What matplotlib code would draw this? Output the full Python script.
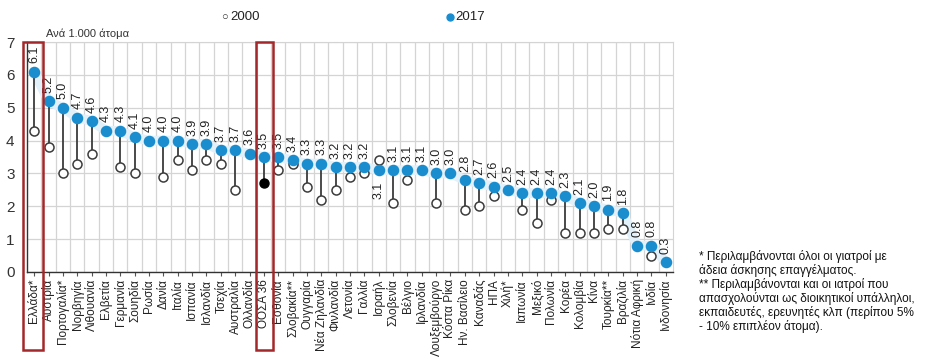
import matplotlib.pyplot as plt
import matplotlib.transforms as mtransforms
from matplotlib.patches import Rectangle

plt.rcParams['font.family'] = ['Liberation Sans', 'DejaVu Sans']

# Χώρες και τιμές (γιατροί ανά 1.000 άτομα)
countries = ['Ελλάδα*', 'Αυστρία', 'Πορτογαλία*', 'Νορβηγία', 'Λιθουανία',
             'Ελβετία', 'Γερμανία', 'Σουηδία', 'Ρωσία', 'Δανία', 'Ιταλία',
             'Ισπανία', 'Ισλανδία', 'Τσεχία', 'Αυστραλία', 'Ολλανδία',
             'ΟΟΣΑ 36', 'Εσθονία', 'Σλοβακία**', 'Ουγγαρία', 'Νέα Ζηλανδία',
             'Φινλανδία', 'Λετονία', 'Γαλλία', 'Ισραήλ', 'Σλοβενία', 'Βέλγιο',
             'Ιρλανδία', 'Λουξεμβούργο', 'Κόστα Ρίκα', 'Ην. Βασίλειο',
             'Καναδάς', 'ΗΠΑ', 'Χιλή*', 'Ιαπωνία', 'Μεξικό', 'Πολωνία',
             'Κορέα', 'Κολομβία', 'Κίνα', 'Τουρκία**', 'Βραζιλία',
             'Νότια Αφρική', 'Ινδία', 'Ινδονησία']
values_2017 = [6.1, 5.2, 5.0, 4.7, 4.6, 4.3, 4.3, 4.1, 4.0, 4.0, 4.0, 3.9,
               3.9, 3.7, 3.7, 3.6, 3.5, 3.5, 3.4, 3.3, 3.3, 3.2, 3.2, 3.2,
               3.1, 3.1, 3.1, 3.1, 3.0, 3.0, 2.8, 2.7, 2.6, 2.5, 2.4, 2.4,
               2.4, 2.3, 2.1, 2.0, 1.9, 1.8, 0.8, 0.8, 0.3]
values_2000 = [4.3, 3.8, 3.0, 3.3, 3.6, None, 3.2, 3.0, None, 2.9, 3.4, 3.1,
               3.4, 3.3, 2.5, None, 2.7, 3.1, 3.3, 2.6, 2.2, 2.5, 2.9, 3.0,
               3.4, 2.1, 2.8, None, 2.1, None, 1.9, 2.0, 2.3, None, 1.9, 1.5,
               2.2, 1.2, 1.2, 1.2, 1.3, 1.3, None, 0.5, None]
highlight = ['Ελλάδα*', 'ΟΟΣΑ 36']
label_below = ['Ισραήλ']

blue = '#1a8dcf'
stem = '#3c3c3c'

fig = plt.figure(figsize=(9.41, 3.63), dpi=100)
ax = fig.add_axes([0.0287, 0.2507, 0.6865, 0.6333])

x = list(range(len(countries)))

# απαλή σκιά πίσω από τις κουκκίδες 2017
ax.plot(x, values_2017, color='#e2f0f9', lw=7, solid_capstyle='round', zorder=1)

for i, c in enumerate(countries):
    v17 = values_2017[i]
    v00 = values_2000[i]
    if v00 is not None:
        ax.plot([i, i], [v00, v17], color=stem, lw=1.3, zorder=2)
        if c == 'ΟΟΣΑ 36':
            ax.plot(i, v00, 'o', ms=6.5, mfc='black', mec='black', zorder=3)
        else:
            ax.plot(i, v00, 'o', ms=6.5, mfc='white', mec=stem, mew=1.1, zorder=3)
    ax.plot(i, v17, 'o', ms=7.3, color=blue, mec=blue, zorder=4)
    if c in label_below:
        ax.annotate(f'{v17:.1f}', (i, v17), xytext=(0, -8),
                    textcoords='offset points', rotation=90, ha='center',
                    va='top', fontsize=9, color='#222222')
    else:
        ax.annotate(f'{v17:.1f}', (i, v17), xytext=(0, 6),
                    textcoords='offset points', rotation=90, ha='center',
                    va='bottom', fontsize=9, color='#222222')

ax.set_xlim(-0.5, len(countries) - 0.5)
ax.set_ylim(0, 7)
ax.set_yticks(range(0, 8))
ax.set_xticks(x)
ax.set_xticklabels(countries, rotation=90, fontsize=8.5, color='#222222')
ax.tick_params(axis='x', length=3, pad=2, color='#555555')
ax.tick_params(axis='y', length=0, pad=9, labelsize=11, labelcolor='#333333')

# πλέγμα
ax.set_xticks([i + 0.5 for i in x[:-1]], minor=True)
ax.grid(True, axis='y', color='#d4d4d4', lw=0.9)
ax.grid(True, axis='x', which='minor', color='#d4d4d4', lw=0.9)
ax.tick_params(axis='x', which='minor', length=0)
ax.set_axisbelow(True)
for s in ['top', 'right']:
    ax.spines[s].set_color('#d4d4d4')
for s in ['left', 'bottom']:
    ax.spines[s].set_color('#333333')
    ax.spines[s].set_linewidth(1.0)

# κόκκινα πλαίσια
trans = mtransforms.blended_transform_factory(ax.transData, ax.transAxes)
for c in highlight:
    i = countries.index(c)
    if i == 0:
        x0, w = i - 0.8, 1.38
    else:
        x0, w = i - 0.58, 1.2
    ax.add_patch(Rectangle((x0, -0.34), w, 1.34,
                           transform=trans, fill=False, ec='#a3282b',
                           lw=1.8, clip_on=False, zorder=5))

ax.text(0.03, 1.015, 'Ανά 1.000 άτομα', transform=ax.transAxes,
        fontsize=8, color='#333333', va='bottom')

# υπόμνημα
fig.text(0.235, 0.952, '○', fontsize=8, ha='left', va='center', color='#333333')
fig.text(0.245, 0.952, '2000', fontsize=9.5, ha='left', va='center', color='#222222')
fig.lines.append(plt.Line2D([0.478], [0.952], marker='o', ms=5, color=blue,
                            transform=fig.transFigure))
fig.text(0.484, 0.952, '2017', fontsize=9.5, ha='left', va='center', color='#222222')

note = ('* Περιλαμβάνονται όλοι οι γιατροί με\n'
        'άδεια άσκησης επαγγέλματος.\n'
        '** Περιλαμβάνονται και οι ιατροί που\n'
        'απασχολούνται ως διοικητικοί υπάλληλοι,\n'
        'εκπαιδευτές, ερευνητές κλπ (περίπου 5%\n'
        '- 10% επιπλέον άτομα).')
fig.text(0.743, 0.31, note, fontsize=8.5, ha='left', va='top',
         color='#111111', linespacing=1.1)

fig.savefig('out.png', dpi=100)
